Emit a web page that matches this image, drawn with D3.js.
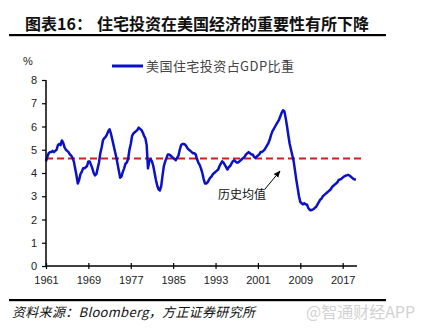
<!DOCTYPE html>
<html><head><meta charset="utf-8">
<script src="https://cdn.jsdelivr.net/npm/d3@7"></script>
<style>body{margin:0;background:#fff}svg{display:block}</style>
</head><body>
<script>
const titleLabel = "图表16：";
const titleText = "住宅投资在美国经济的重要性有所下降";
const seriesName = "美国住宅投资占GDP比重";
const sourceText = "资料来源：Bloomberg，方正证券研究所";
const watermark = "@智通财经APP";
const meanLabel = "历史均值";
const unitLabel = "%";
const startYear = 1961; // quarterly series starting 1961Q1
const values = [
 4.5,4.7,4.85,4.9,
 4.9,4.95,4.9,4.95,
 5.0,5.2,5.25,5.2,
 5.4,5.3,5.1,5.0,
 4.95,4.9,4.8,4.75,
 4.65,4.5,4.2,3.9,
 3.55,3.7,3.95,4.05,
 4.2,4.2,4.25,4.3,
 4.5,4.5,4.35,4.2,
 4.0,3.9,3.95,4.2,
 4.45,4.85,5.1,5.4,
 5.5,5.55,5.65,5.8,
 5.88,5.7,5.45,5.2,
 4.95,4.7,4.4,4.1,
 3.8,3.85,4.05,4.2,
 4.4,4.45,4.6,5.0,
 5.25,5.6,5.7,5.75,
 5.8,5.85,5.95,5.9,
 5.85,5.75,5.6,5.5,
 5.2,4.2,4.5,4.6,
 4.5,4.3,4.0,3.7,
 3.45,3.3,3.25,3.45,
 3.9,4.3,4.5,4.65,
 4.8,4.8,4.75,4.7,
 4.65,4.6,4.55,4.65,
 4.75,5.0,5.2,5.25,
 5.25,5.22,5.15,5.05,
 5.0,4.95,4.9,4.85,
 4.85,4.8,4.6,4.45,
 4.35,4.2,4.0,3.75,
 3.55,3.55,3.6,3.7,
 3.8,3.85,3.95,4.0,
 4.05,4.1,4.15,4.3,
 4.4,4.5,4.45,4.35,
 4.25,4.15,4.25,4.3,
 4.4,4.5,4.55,4.5,
 4.45,4.45,4.5,4.55,
 4.6,4.65,4.7,4.8,
 4.85,4.9,4.85,4.8,
 4.8,4.7,4.65,4.7,
 4.75,4.8,4.9,4.9,
 4.95,5.0,5.1,5.2,
 5.3,5.45,5.65,5.8,
 5.9,6.0,6.1,6.2,
 6.3,6.45,6.6,6.7,
 6.65,6.35,6.0,5.6,
 5.25,5.0,4.75,4.5,
 4.1,3.7,3.35,3.0,
 2.75,2.7,2.65,2.7,
 2.65,2.65,2.5,2.42,
 2.4,2.42,2.45,2.5,
 2.55,2.65,2.75,2.85,
 2.9,3.0,3.05,3.1,
 3.15,3.2,3.25,3.3,
 3.4,3.45,3.5,3.55,
 3.6,3.7,3.72,3.75,
 3.8,3.85,3.88,3.9,
 3.92,3.9,3.85,3.8,
 3.75,3.72,3.73
];
const historicalMean = 4.62;
const yTicks = [0,1,2,3,4,5,6,7,8];
const xTicks = [1961,1969,1977,1985,1993,2001,2009,2017];

const W = 427, H = 329;
const svg = d3.select("body").append("svg").attr("width", W).attr("height", H);
const latin = "'Liberation Sans', Arial, 'Noto Sans CJK SC', sans-serif";
const cjk = "'Noto Sans CJK SC', 'Liberation Sans', sans-serif";

// title
svg.append("text").attr("x", 25).attr("y", 30).attr("font-family", cjk)
  .attr("font-size", 16).attr("font-weight", "bold").attr("fill", "#111").text(titleLabel);
svg.append("text").attr("x", 97).attr("y", 30).attr("font-family", cjk)
  .attr("font-size", 16).attr("font-weight", "bold").attr("fill", "#111")
  .attr("textLength", 272).text(titleText);
svg.append("rect").attr("x", 9).attr("y", 34).attr("width", 377).attr("height", 2.2).attr("fill", "#000");

// footer
svg.append("rect").attr("x", 9).attr("y", 299).attr("width", 377).attr("height", 2.2).attr("fill", "#000");
svg.append("text").attr("x", 12).attr("y", 317).attr("font-family", cjk)
  .attr("font-size", 13).attr("font-style", "italic").attr("fill", "#111")
  .attr("textLength", 243).text(sourceText);
svg.append("text").attr("x", 306).attr("y", 318).attr("font-family", cjk)
  .attr("font-size", 16).attr("fill", "#d2d2d2").text(watermark);

const x = d3.scaleLinear().domain([1961, 2019.7]).range([46, 357]);
const y = d3.scaleLinear().domain([0, 8]).range([266, 80]);

// mean line
svg.append("line").attr("x1", x(1961)).attr("x2", 362)
  .attr("y1", y(historicalMean)).attr("y2", y(historicalMean))
  .attr("stroke", "#cc1f1f").attr("stroke-width", 2).attr("stroke-dasharray", "7,4");

// series
const data = values.map((v, i) => ({t: startYear + i / 4, v}));
svg.append("path").datum(data)
  .attr("fill", "none").attr("stroke", "#0a12c8").attr("stroke-width", 2.5)
  .attr("stroke-linejoin", "round")
  .attr("d", d3.line().x(d => x(d.t)).y(d => y(d.v)));

// axes
const yAxis = d3.axisLeft(y).tickValues(yTicks).tickSize(4).tickPadding(5).tickFormat(d3.format("d"));
const gy = svg.append("g").attr("transform", "translate(46,0)").call(yAxis);
gy.select(".domain").attr("stroke", "#000").attr("stroke-width", 1.5).attr("d", "M0,80V266");
gy.selectAll(".tick line").attr("stroke", "#000").attr("stroke-width", 1.2);
gy.selectAll("text").attr("font-family", latin).attr("font-size", 11).attr("fill", "#222");

const xAxis = d3.axisBottom(x).tickValues(xTicks).tickSize(3).tickPadding(7).tickFormat(d3.format("d"));
const gx = svg.append("g").attr("transform", "translate(0,266)").call(xAxis);
gx.select(".domain").attr("stroke", "#000").attr("stroke-width", 1.5).attr("d", "M46,0H357");
gx.selectAll(".tick line").attr("stroke", "#000").attr("stroke-width", 1.2).attr("y1", -3).attr("y2", 3);
gx.selectAll("text").attr("font-family", latin).attr("font-size", 11).attr("fill", "#222");

// unit
svg.append("text").attr("x", 23).attr("y", 65).attr("font-family", latin)
  .attr("font-size", 11).attr("fill", "#222").text(unitLabel);

// legend
svg.append("line").attr("x1", 112).attr("x2", 143).attr("y1", 66).attr("y2", 66)
  .attr("stroke", "#0a12c8").attr("stroke-width", 3);
svg.append("text").attr("x", 146).attr("y", 71).attr("font-family", cjk)
  .attr("font-size", 13).attr("fill", "#444").attr("textLength", 148).text(seriesName);

// annotation
svg.append("defs").append("marker").attr("id", "ah").attr("viewBox", "0 0 10 10")
  .attr("refX", 9).attr("refY", 5).attr("markerWidth", 7).attr("markerHeight", 7)
  .attr("orient", "auto").append("path").attr("d", "M0,1L10,5L0,9Z").attr("fill", "#000");
svg.append("line").attr("x1", 265).attr("y1", 189).attr("x2", 280).attr("y2", 171)
  .attr("stroke", "#000").attr("stroke-width", 1).attr("marker-end", "url(#ah)");
svg.append("text").attr("x", 218).attr("y", 199).attr("font-family", cjk)
  .attr("font-size", 12).attr("fill", "#111").text(meanLabel);
</script>
</body></html>
